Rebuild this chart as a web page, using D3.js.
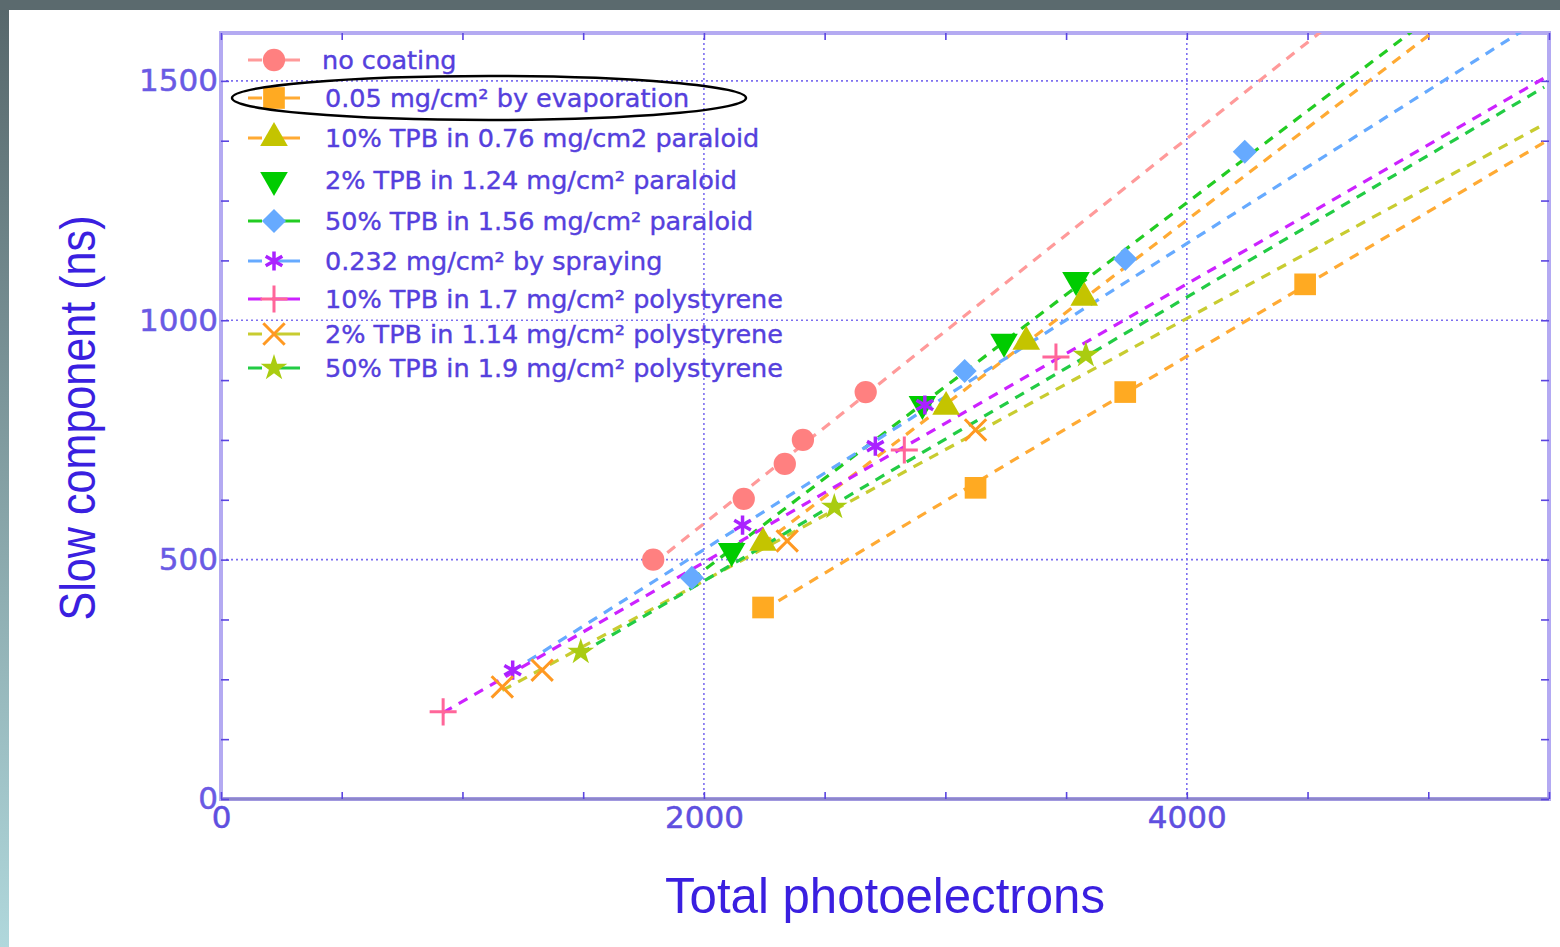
<!DOCTYPE html>
<html>
<head>
<meta charset="utf-8">
<script src="https://cdn.jsdelivr.net/npm/d3@7"></script>
<style>
  html, body { margin: 0; padding: 0; background: #fff; }
  svg { display: block; }
</style>
</head>
<body>
<div id="chart"></div>
<script>
// Slow component vs total photoelectrons, one array per coating
const noCoating   = [[1790, 500], [2165, 627], [2335, 700], [2410, 750], [2670, 850]];
const evaporation = [[2245, 400], [3125, 650], [3745, 850], [4490, 1075]];
const paraloid10  = [[2245, 535], [3003, 819], [3335, 955], [3575, 1047]];
const paraloid2   = [[2115, 518], [2905, 825], [3243, 955], [3541, 1084]];
const paraloid50  = [[1950, 462], [3080, 894], [3745, 1128], [4240, 1352]];
const spraying    = [[1208, 269], [2160, 572], [2710, 737], [2915, 823]];
const poly10      = [[920, 182], [2830, 729], [3458, 923]];
const poly2       = [[1165, 234], [1330, 269], [2345, 539], [3125, 771]];
const poly50      = [[1490, 307], [2540, 610], [3582, 927]];

const labels = [
  "no coating",
  "0.05 mg/cm\u00b2 by evaporation",
  "10% TPB in 0.76 mg/cm2 paraloid",
  "2% TPB in 1.24 mg/cm\u00b2 paraloid",
  "50% TPB in 1.56 mg/cm\u00b2 paraloid",
  "0.232 mg/cm\u00b2 by spraying",
  "10% TPB in 1.7 mg/cm\u00b2 polystyrene",
  "2% TPB in 1.14 mg/cm\u00b2 polystyrene",
  "50% TPB in 1.9 mg/cm\u00b2 polystyrene"
];

const xTicks = [0, 2000, 4000];
const yTicks = [0, 500, 1000, 1500];

// styling per series (marker, marker colour, fit line colour; null = no line)
const series = [
  { data: noCoating,   shape: "circle",  fill: "#ff8080", line: "#ff9a9a" },
  { data: evaporation, shape: "square",  fill: "#ffaa22", line: "#ffaa33" },
  { data: paraloid10,  shape: "tri",     fill: "#c4c400", line: "#ffaa33" },
  { data: paraloid2,   shape: "triDown", fill: "#00cc00", line: null },
  { data: paraloid50,  shape: "diamond", fill: "#66aaff", line: "#22cc22" },
  { data: spraying,    shape: "aster",   fill: "#aa22ff", line: "#66aaff" },
  { data: poly10,      shape: "plus",    fill: "#ff6699", line: "#cc22ff" },
  { data: poly2,       shape: "times",   fill: "#ff9922", line: "#c8cc30" },
  { data: poly50,      shape: "star",    fill: "#aacc11", line: "#22cc44" }
].map((s, i) => ({ ...s, label: labels[i] }));

const width = 1560, height = 947;
const plot = { left: 221, right: 1549, top: 33, bottom: 799 };

const x = d3.scaleLinear().domain([0, 5500]).range([plot.left, plot.right]);
const y = d3.scaleLinear().domain([0, 1600]).range([plot.bottom, plot.top]);

const svg = d3.select("#chart").append("svg")
  .attr("width", width)
  .attr("height", height);

// slide background: dark band on top, gradient strip on the left
const defs = svg.append("defs");
const grad = defs.append("linearGradient").attr("id", "side")
  .attr("x1", 0).attr("y1", 0).attr("x2", 0).attr("y2", 1);
grad.append("stop").attr("offset", "0%").attr("stop-color", "#56666a");
grad.append("stop").attr("offset", "100%").attr("stop-color", "#b0d8dc");
svg.append("rect").attr("width", width).attr("height", height).attr("fill", "#fff");
svg.append("rect").attr("x", 0).attr("y", 0).attr("width", 9).attr("height", height).attr("fill", "url(#side)");
svg.append("rect").attr("x", 0).attr("y", 0).attr("width", width).attr("height", 10).attr("fill", "#5b6a6e");

defs.append("clipPath").attr("id", "clip").append("rect")
  .attr("x", plot.left).attr("y", plot.top)
  .attr("width", plot.right - plot.left).attr("height", plot.bottom - plot.top);

// dotted grid at the major ticks
const grid = svg.append("g").attr("stroke", "#7d6ff0").attr("stroke-width", 1.6)
  .attr("stroke-dasharray", "2,3");
grid.selectAll(".gx").data(xTicks.filter(d => d > 0)).join("line")
  .attr("x1", d => x(d)).attr("x2", d => x(d))
  .attr("y1", plot.top).attr("y2", plot.bottom);
grid.selectAll(".gy").data(yTicks.filter(d => d > 0)).join("line")
  .attr("y1", d => y(d)).attr("y2", d => y(d))
  .attr("x1", plot.left).attr("x2", plot.right);

// frame
svg.append("rect")
  .attr("x", plot.left).attr("y", plot.top)
  .attr("width", plot.right - plot.left).attr("height", plot.bottom - plot.top)
  .attr("fill", "none").attr("stroke", "#b4aaf2").attr("stroke-width", 4);
svg.append("line").attr("x1", plot.left).attr("x2", plot.right)
  .attr("y1", plot.bottom).attr("y2", plot.bottom)
  .attr("stroke", "#8d86cc").attr("stroke-width", 3);

// ticks on all four sides, pointing inwards
const xMinor = d3.range(0, 5501, 500);
const yMinor = d3.range(0, 1601, 125);
const tickColor = "#5a44e0";
const addAxis = (axis, pos) => {
  svg.append("g").attr("transform", pos).call(axis)
    .call(g => g.select(".domain").remove())
    .call(g => g.selectAll("line").attr("stroke", tickColor).attr("stroke-width", 1.6));
};
addAxis(d3.axisBottom(x).tickValues(xMinor).tickSize(-7).tickFormat(""), `translate(0,${plot.bottom})`);
addAxis(d3.axisTop(x).tickValues(xMinor).tickSize(-7).tickFormat(""), `translate(0,${plot.top})`);
addAxis(d3.axisLeft(y).tickValues(yMinor).tickSize(-8).tickFormat(""), `translate(${plot.left},0)`);
addAxis(d3.axisRight(y).tickValues(yMinor).tickSize(-8).tickFormat(""), `translate(${plot.right},0)`);

// tick labels
const tickFont = "DejaVu Sans, Verdana, sans-serif";
svg.append("g").attr("transform", `translate(0,${plot.bottom})`)
  .call(d3.axisBottom(x).tickValues(xTicks).tickSize(0).tickPadding(7).tickFormat(d3.format("d")))
  .call(g => g.select(".domain").remove())
  .call(g => g.selectAll("text").attr("font-family", tickFont).attr("font-size", 31)
    .attr("fill", "#5f4fe0").attr("stroke", "#5f4fe0").attr("stroke-width", 0.5));
svg.append("g").attr("transform", `translate(${plot.left},0)`)
  .call(d3.axisLeft(y).tickValues(yTicks).tickSize(0).tickPadding(3).tickFormat(d3.format("d")))
  .call(g => g.select(".domain").remove())
  .call(g => g.selectAll("text").attr("font-family", tickFont).attr("font-size", 31)
    .attr("fill", "#6a5ae4").attr("stroke", "#6a5ae4").attr("stroke-width", 0.5));

// axis titles (condensed face, squeezed to the original width)
const titleFont = "'Liberation Sans Narrow', 'Arial Narrow', 'Liberation Sans', sans-serif";
svg.append("text")
  .attr("transform", `translate(95,418) rotate(-90)`)
  .attr("text-anchor", "middle")
  .attr("font-family", titleFont).attr("font-size", 50)
  .attr("textLength", 405).attr("lengthAdjust", "spacingAndGlyphs")
  .attr("fill", "#3a1fe0")
  .text("Slow component (ns)");
svg.append("text")
  .attr("x", 885).attr("y", 913)
  .attr("text-anchor", "middle")
  .attr("font-family", titleFont).attr("font-size", 50)
  .attr("textLength", 440).attr("lengthAdjust", "spacingAndGlyphs")
  .attr("fill", "#3a1fe0")
  .text("Total photoelectrons");

// marker paths
const sym = (type, size) => d3.symbol().type(type).size(size)();
const shapes = {
  circle:  { d: sym(d3.symbolCircle, 390), filled: true },
  square:  { d: sym(d3.symbolSquare, 470), filled: true },
  tri:     { d: sym(d3.symbolTriangle, 330), filled: true },
  triDown: { d: sym(d3.symbolTriangle, 330), filled: true, rot: 180 },
  diamond: { d: sym(d3.symbolSquare, 290), filled: true, rot: 45 },
  aster:   { d: sym(d3.symbolAsterisk, 260), filled: false, w: 3.5 },
  plus:    { d: sym(d3.symbolPlus, 240), filled: false, w: 3 },
  times:   { d: sym(d3.symbolTimes, 300), filled: false, w: 3 },
  star:    { d: sym(d3.symbolStar, 220), filled: true }
};
const drawMarker = (g, s, cx, cy) => {
  const sh = shapes[s.shape];
  g.append("path")
    .attr("d", sh.d)
    .attr("transform", `translate(${cx},${cy})` + (sh.rot ? ` rotate(${sh.rot})` : ""))
    .attr("fill", sh.filled ? s.fill : "none")
    .attr("stroke", sh.filled ? "none" : s.fill)
    .attr("stroke-width", sh.w || 0);
};

// least-squares fit lines, from the first point to the right end
const lineGen = d3.line().x(d => x(d[0])).y(d => y(d[1]));
const lines = svg.append("g").attr("clip-path", "url(#clip)");
series.filter(s => s.line).forEach(s => {
  const xs = s.data.map(d => d[0]), ys = s.data.map(d => d[1]);
  const mx = d3.mean(xs), my = d3.mean(ys);
  const slope = d3.sum(xs, (v, i) => (v - mx) * (ys[i] - my)) / d3.sum(xs, v => (v - mx) ** 2);
  const f = v => my + slope * (v - mx);
  const x0 = d3.min(xs), x1 = 5480;
  lines.append("path")
    .datum([[x0, f(x0)], [x1, f(x1)]])
    .attr("d", lineGen)
    .attr("fill", "none")
    .attr("stroke", s.line)
    .attr("stroke-width", 3.2)
    .attr("stroke-dasharray", "10,8");
});

const marks = svg.append("g");
series.forEach(s => s.data.forEach(d => drawMarker(marks, s, x(d[0]), y(d[1]))));

// legend
const rowY = [60, 98, 138, 180, 221, 261, 299, 334, 368];
const legend = svg.append("g");
series.forEach((s, i) => {
  const cy = rowY[i];
  if (s.line) {
    legend.append("line")
      .attr("x1", 248).attr("x2", 300).attr("y1", cy).attr("y2", cy)
      .attr("stroke", s.line).attr("stroke-width", 3)
      .attr("stroke-dasharray", "14,10,28,10");
  }
  drawMarker(legend, s, 274, cy);
  legend.append("text")
    .attr("x", i === 0 ? 322 : 325).attr("y", cy + 9)
    .attr("font-family", tickFont).attr("font-size", 25.5)
    .attr("fill", "#5540dd").attr("stroke", "#5540dd").attr("stroke-width", 0.4)
    .text(s.label);
});

// hand-drawn emphasis ellipse round the evaporation entry
svg.append("ellipse")
  .attr("cx", 489).attr("cy", 98).attr("rx", 257).attr("ry", 22)
  .attr("fill", "none").attr("stroke", "#000").attr("stroke-width", 2.5);
</script>
</body>
</html>
